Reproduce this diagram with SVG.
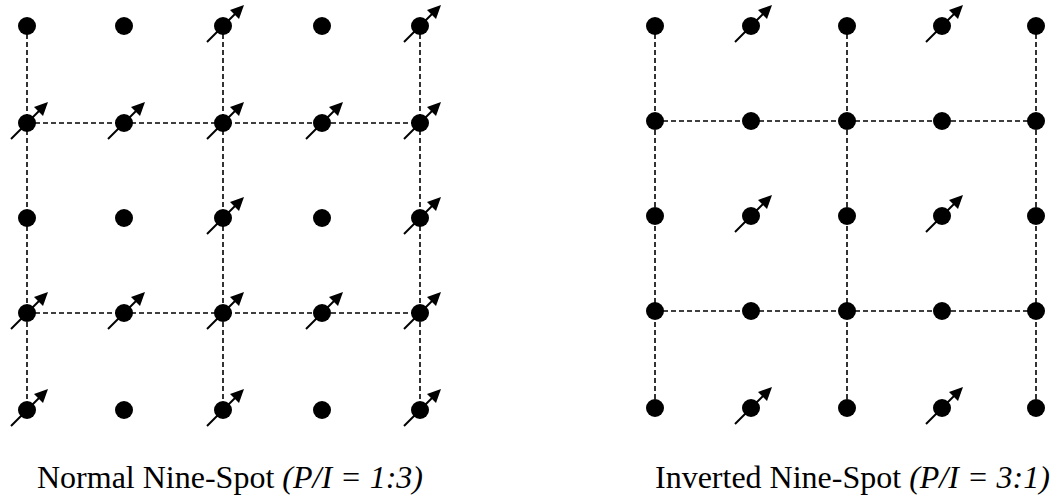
<svg xmlns="http://www.w3.org/2000/svg" xmlns:xlink="http://www.w3.org/1999/xlink" width="1055" height="497" viewBox="0 0 1055 497">
<style>
.dash{stroke:#000;stroke-width:1.6;stroke-dasharray:5 3;fill:none}
.lbl{font-family:"Liberation Serif","Times New Roman",serif;font-size:32px;fill:#000}
.it{font-style:italic}
</style>
<defs>
<circle id="dot" r="9" fill="#000"/>
<g id="arr">
<line x1="-16" y1="16" x2="12" y2="-12" stroke="#000" stroke-width="2"/>
<polygon points="21,-21 16,-7 7,-16" fill="#000"/>
</g>
</defs>
<rect width="1055" height="497" fill="#fff"/>
<g id="connectors">
<line class="dash" x1="27" y1="26" x2="27" y2="410"/>
<line class="dash" x1="223" y1="26" x2="223" y2="410"/>
<line class="dash" x1="420" y1="26" x2="420" y2="410"/>
<line class="dash" x1="27" y1="123" x2="420" y2="123"/>
<line class="dash" x1="27" y1="313" x2="420" y2="313"/>
<line class="dash" x1="655" y1="26" x2="655" y2="408"/>
<line class="dash" x1="847" y1="26" x2="847" y2="408"/>
<line class="dash" x1="1036" y1="26" x2="1036" y2="408"/>
<line class="dash" x1="655" y1="121" x2="1036" y2="121"/>
<line class="dash" x1="655" y1="311" x2="1036" y2="311"/>
</g>
<g id="left-grid">
<g id="L11"><use xlink:href="#dot" x="27" y="26"/></g>
<g id="L12"><use xlink:href="#dot" x="124" y="26"/></g>
<g id="L13"><use xlink:href="#dot" x="223" y="26"/><use xlink:href="#arr" x="223" y="26"/></g>
<g id="L14"><use xlink:href="#dot" x="322" y="26"/></g>
<g id="L15"><use xlink:href="#dot" x="420" y="26"/><use xlink:href="#arr" x="420" y="26"/></g>
<g id="L21"><use xlink:href="#dot" x="27" y="123"/><use xlink:href="#arr" x="27" y="123"/></g>
<g id="L22"><use xlink:href="#dot" x="124" y="123"/><use xlink:href="#arr" x="124" y="123"/></g>
<g id="L23"><use xlink:href="#dot" x="223" y="123"/><use xlink:href="#arr" x="223" y="123"/></g>
<g id="L24"><use xlink:href="#dot" x="322" y="123"/><use xlink:href="#arr" x="322" y="123"/></g>
<g id="L25"><use xlink:href="#dot" x="420" y="123"/><use xlink:href="#arr" x="420" y="123"/></g>
<g id="L31"><use xlink:href="#dot" x="27" y="218"/></g>
<g id="L32"><use xlink:href="#dot" x="124" y="218"/></g>
<g id="L33"><use xlink:href="#dot" x="223" y="218"/><use xlink:href="#arr" x="223" y="218"/></g>
<g id="L34"><use xlink:href="#dot" x="322" y="218"/></g>
<g id="L35"><use xlink:href="#dot" x="420" y="218"/><use xlink:href="#arr" x="420" y="218"/></g>
<g id="L41"><use xlink:href="#dot" x="27" y="313"/><use xlink:href="#arr" x="27" y="313"/></g>
<g id="L42"><use xlink:href="#dot" x="124" y="313"/><use xlink:href="#arr" x="124" y="313"/></g>
<g id="L43"><use xlink:href="#dot" x="223" y="313"/><use xlink:href="#arr" x="223" y="313"/></g>
<g id="L44"><use xlink:href="#dot" x="322" y="313"/><use xlink:href="#arr" x="322" y="313"/></g>
<g id="L45"><use xlink:href="#dot" x="420" y="313"/><use xlink:href="#arr" x="420" y="313"/></g>
<g id="L51"><use xlink:href="#dot" x="27" y="410"/><use xlink:href="#arr" x="27" y="410"/></g>
<g id="L52"><use xlink:href="#dot" x="124" y="410"/></g>
<g id="L53"><use xlink:href="#dot" x="223" y="410"/><use xlink:href="#arr" x="223" y="410"/></g>
<g id="L54"><use xlink:href="#dot" x="322" y="410"/></g>
<g id="L55"><use xlink:href="#dot" x="420" y="410"/><use xlink:href="#arr" x="420" y="410"/></g>
</g>
<g id="right-grid">
<g id="R11"><use xlink:href="#dot" x="655" y="26"/></g>
<g id="R12"><use xlink:href="#dot" x="751" y="26"/><use xlink:href="#arr" x="751" y="26"/></g>
<g id="R13"><use xlink:href="#dot" x="847" y="26"/></g>
<g id="R14"><use xlink:href="#dot" x="942" y="26"/><use xlink:href="#arr" x="942" y="26"/></g>
<g id="R15"><use xlink:href="#dot" x="1036" y="26"/></g>
<g id="R21"><use xlink:href="#dot" x="655" y="121"/></g>
<g id="R22"><use xlink:href="#dot" x="751" y="121"/></g>
<g id="R23"><use xlink:href="#dot" x="847" y="121"/></g>
<g id="R24"><use xlink:href="#dot" x="942" y="121"/></g>
<g id="R25"><use xlink:href="#dot" x="1036" y="121"/></g>
<g id="R31"><use xlink:href="#dot" x="655" y="216"/></g>
<g id="R32"><use xlink:href="#dot" x="751" y="216"/><use xlink:href="#arr" x="751" y="216"/></g>
<g id="R33"><use xlink:href="#dot" x="847" y="216"/></g>
<g id="R34"><use xlink:href="#dot" x="942" y="216"/><use xlink:href="#arr" x="942" y="216"/></g>
<g id="R35"><use xlink:href="#dot" x="1036" y="216"/></g>
<g id="R41"><use xlink:href="#dot" x="655" y="311"/></g>
<g id="R42"><use xlink:href="#dot" x="751" y="311"/></g>
<g id="R43"><use xlink:href="#dot" x="847" y="311"/></g>
<g id="R44"><use xlink:href="#dot" x="942" y="311"/></g>
<g id="R45"><use xlink:href="#dot" x="1036" y="311"/></g>
<g id="R51"><use xlink:href="#dot" x="655" y="408"/></g>
<g id="R52"><use xlink:href="#dot" x="751" y="408"/><use xlink:href="#arr" x="751" y="408"/></g>
<g id="R53"><use xlink:href="#dot" x="847" y="408"/></g>
<g id="R54"><use xlink:href="#dot" x="942" y="408"/><use xlink:href="#arr" x="942" y="408"/></g>
<g id="R55"><use xlink:href="#dot" x="1036" y="408"/></g>
</g>
<g id="labels">
<text class="lbl" x="37" y="488">Normal Nine-Spot <tspan class="it">(P/I = 1:3)</tspan></text>
<text class="lbl" x="655" y="488">Inverted Nine-Spot <tspan class="it">(P/I = 3:1)</tspan></text>
</g>
</svg>
